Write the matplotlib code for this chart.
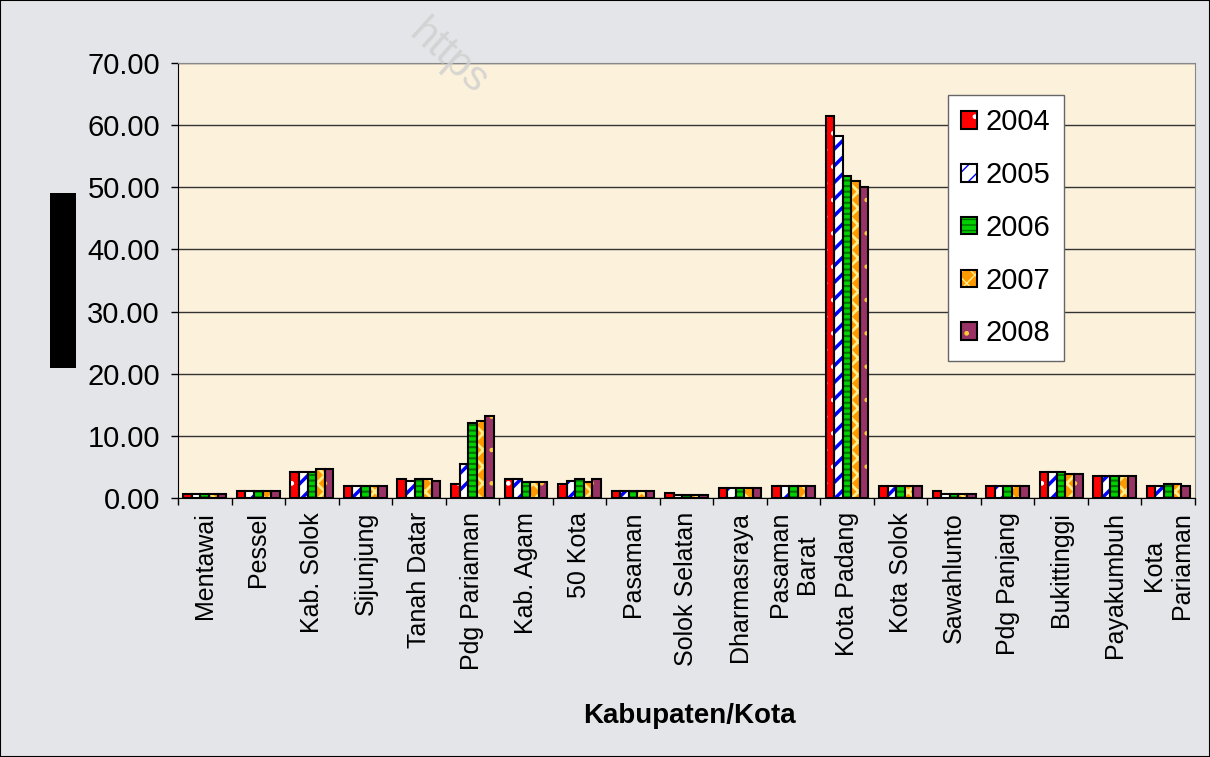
import matplotlib
matplotlib.use('Agg')
import matplotlib as mpl
import matplotlib.pyplot as plt
import numpy as np
from matplotlib.patches import Rectangle
from matplotlib.legend_handler import HandlerTuple

plt.rcParams['font.family'] = ['Liberation Sans', 'DejaVu Sans']

regions = ['Mentawai', 'Pessel', 'Kab. Solok', 'Sijunjung', 'Tanah Datar',
           'Pdg Pariaman', 'Kab. Agam', '50 Kota', 'Pasaman', 'Solok Selatan',
           'Dharmasraya', 'Pasaman\nBarat', 'Kota Padang', 'Kota Solok',
           'Sawahlunto', 'Pdg Panjang', 'Bukittinggi', 'Payakumbuh',
           'Kota\nPariaman']
years = ['2004', '2005', '2006', '2007', '2008']

v2004 = [0.7, 1.1, 4.2, 1.9, 3.0, 2.3, 3.0, 2.3, 1.2, 0.75, 1.55, 1.9, 61.5, 1.9, 1.1, 1.9, 4.2, 3.5, 1.9]
v2005 = [0.7, 1.1, 4.2, 1.9, 2.7, 5.4, 3.0, 2.7, 1.2, 0.55, 1.55, 1.9, 58.3, 1.9, 0.65, 1.9, 4.2, 3.5, 1.9]
v2006 = [0.7, 1.1, 4.2, 1.9, 3.0, 12.0, 2.6, 3.1, 1.2, 0.55, 1.55, 1.9, 51.8, 1.9, 0.65, 1.9, 4.2, 3.5, 2.3]
v2007 = [0.7, 1.1, 4.6, 1.9, 3.0, 12.4, 2.6, 2.6, 1.2, 0.55, 1.55, 1.9, 51.0, 1.9, 0.65, 1.9, 3.9, 3.5, 2.3]
v2008 = [0.7, 1.1, 4.6, 1.9, 2.7, 13.2, 2.6, 3.1, 1.2, 0.55, 1.55, 1.9, 50.0, 1.9, 0.65, 1.9, 3.9, 3.5, 1.9]
series = [v2004, v2005, v2006, v2007, v2008]

# fill colour, hatch, hatch colour, hatch linewidth
styles = [('#ff0000', '.', '#ffffff', 1.0),
          ('#ffffff', '//', '#0000ff', 2.5),
          ('#00d000', '---', '#007000', 1.5),
          ('#ff9900', 'xx', '#ffee88', 2.0),
          ('#993366', '.', '#ffcc33', 0.8)]

fig = plt.figure(figsize=(12.1, 7.57), dpi=100)
fig.patch.set_facecolor('#e3e5e8')
ax = fig.add_axes([0.1471, 0.3421, 0.8405, 0.5747])
ax.set_facecolor('#fcf1db')

x = np.arange(len(regions))
w = 0.16
handles = []
for j, (vals, (fc, hatch, hc, hlw)) in enumerate(zip(series, styles)):
    pos = x + (j - 2) * w
    with mpl.rc_context({'hatch.linewidth': hlw}):
        fill = ax.bar(pos, vals, w, color=fc, hatch=hatch, edgecolor=hc,
                      linewidth=0, zorder=3)
        for p in fill:
            if hasattr(p, 'set_hatch_linewidth'):
                p.set_hatch_linewidth(hlw)
    edge = ax.bar(pos, vals, w, facecolor='none', edgecolor='black',
                  linewidth=1.5, zorder=4)
    handles.append((fill[0], edge[0]))

ax.set_xlim(-0.5, len(regions) - 0.5)
ax.set_ylim(0, 70)
ax.set_yticks(np.arange(0, 71, 10))
ax.set_yticklabels(['%.2f' % v for v in np.arange(0, 71, 10)], fontsize=21)
ax.yaxis.grid(True, color='#333333', linewidth=1.0, zorder=1)
ax.set_axisbelow(True)

ax.set_xticks(x)
ax.set_xticklabels(regions, rotation=90, fontsize=18, ha='center', va='top',
                   multialignment='center')
ax.set_xticks(np.arange(-0.5, len(regions), 1), minor=True)
ax.tick_params(axis='x', which='major', length=0, pad=10)
ax.tick_params(axis='x', which='minor', length=5, width=1, direction='out')
ax.tick_params(axis='y', length=5, width=1, direction='out', pad=8)

for s in ['left', 'bottom']:
    ax.spines[s].set_color('black')
for s in ['top', 'right']:
    ax.spines[s].set_color('#888888')

ax.set_xlabel('Kabupaten/Kota', fontsize=20, fontweight='bold')
ax.xaxis.set_label_coords(0.503, -0.47)

leg = ax.legend(handles, years,
                handler_map={tuple: HandlerTuple(ndivide=1, pad=0)},
                loc='upper left', bbox_to_anchor=(0.757, 0.926), fontsize=21,
                frameon=True, fancybox=False, edgecolor='#666666',
                handlelength=0.55, handleheight=0.55, handletextpad=0.3,
                labelspacing=0.85, borderpad=0.45, borderaxespad=0)
leg.get_frame().set_facecolor('white')
leg.get_frame().set_alpha(1)
leg.set_zorder(6)

# redacted y-axis label box
fig.patches.append(Rectangle((50 / 1210, 1 - 368 / 757), 26 / 1210, 175 / 757,
                             transform=fig.transFigure, facecolor='black',
                             edgecolor='none'))
# faint watermark
fig.text(0.37, 0.925, 'https', rotation=-42, color='#cfcfcf', fontsize=30,
         alpha=0.8, zorder=10, ha='center', va='center')
# outer border
fig.patches.append(Rectangle((0, 0), 1, 1, transform=fig.transFigure,
                             fill=False, edgecolor='black', linewidth=1.5))

fig.savefig('out.png', dpi=100, facecolor=fig.get_facecolor())
